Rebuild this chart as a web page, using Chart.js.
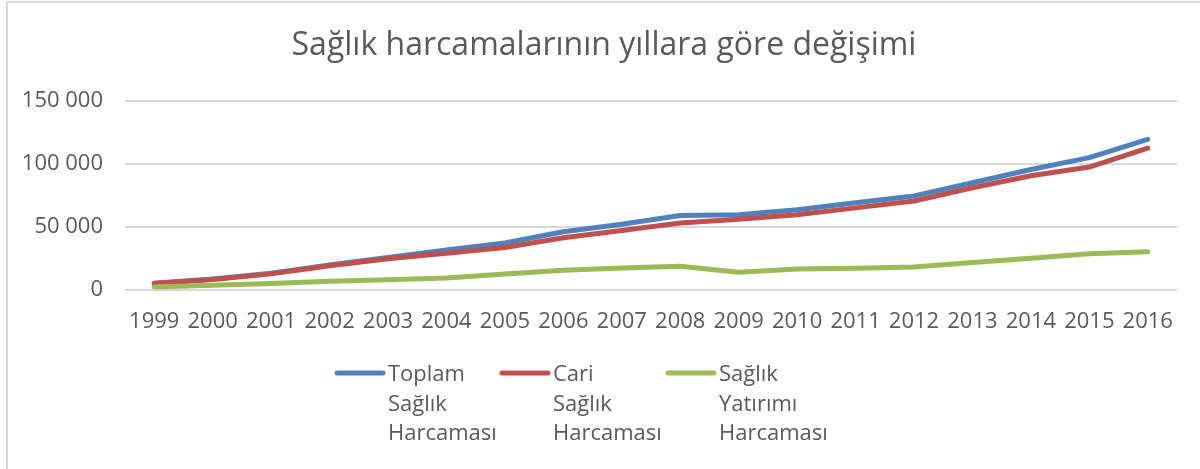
<!DOCTYPE html>
<html lang="tr">
<head>
<meta charset="UTF-8">
<title>Sağlık harcamaları</title>
<script src="https://cdn.jsdelivr.net/npm/chart.js"></script>
<style>
    body {
        margin: 0;
        background: #ffffff;
        overflow: hidden;
    }
    .frame {
        position: absolute;
        left: 6px;
        top: 1px;
        width: 1300px;
        height: 600px;
        border-top: 2px solid #d9d9d9;
        border-left: 2px solid #d9d9d9;
    }
    .chart-box {
        position: absolute;
        left: 0;
        top: 0;
        width: 1200px;
        height: 469px;
    }
</style>
</head>
<body>
<div class="frame"></div>
<div class="chart-box">
    <canvas id="chart"></canvas>
</div>
<script>
const years = ['1999', '2000', '2001', '2002', '2003', '2004', '2005', '2006', '2007',
    '2008', '2009', '2010', '2011', '2012', '2013', '2014', '2015', '2016'];

const toplam = [5000, 8500, 13000, 19500, 25500, 31500, 37000, 46000, 52000,
    59000, 59500, 63500, 69000, 74500, 85000, 95500, 105000, 119500];
const cari = [4800, 8000, 12500, 19000, 24500, 29000, 33500, 41300, 47000,
    53000, 56000, 59500, 65000, 70500, 81000, 90500, 97500, 112500];
const yatirim = [2100, 3400, 4800, 6600, 7900, 9300, 12400, 15300, 17200,
    18500, 13800, 16400, 17000, 18000, 21500, 25000, 28500, 30200];

const seriesNames = [
    ['Toplam', 'Sağlık', 'Harcaması'],
    ['Cari', 'Sağlık', 'Harcaması'],
    ['Sağlık', 'Yatırımı', 'Harcaması']
];
const yTicks = [0, 50000, 100000, 150000];
const chartTitle = 'Sağlık harcamalarının yıllara göre değişimi';

const textColor = '#595959';
const fontFamily = "'Open Sans', 'Noto Sans', sans-serif";

// title and legend drawn by hand: the title sits off-centre, the legend wraps
const titleAndLegend = {
    id: 'titleAndLegend',
    afterDraw(chart) {
        const ctx = chart.ctx;
        ctx.save();
        ctx.fillStyle = textColor;
        ctx.textBaseline = 'middle';
        ctx.textAlign = 'center';
        ctx.font = '32px ' + fontFamily;
        ctx.fillText(chartTitle, 604, 46);

        const starts = [337, 502, 668];
        ctx.textAlign = 'left';
        ctx.font = '22px ' + fontFamily;
        chart.data.datasets.forEach((ds, i) => {
            const x = starts[i];
            ctx.strokeStyle = ds.borderColor;
            ctx.lineWidth = 5;
            ctx.lineCap = 'round';
            ctx.beginPath();
            ctx.moveTo(x, 373);
            ctx.lineTo(x + 46, 373);
            ctx.stroke();
            seriesNames[i].forEach((line, j) => {
                ctx.fillText(line, x + 51, 375 + j * 29.5);
            });
        });
        ctx.restore();
    }
};

const makeLine = (label, data, color, order) => ({
    label: label,
    data: data,
    borderColor: color,
    backgroundColor: color,
    borderWidth: 5,
    pointRadius: 0,
    tension: 0,
    borderCapStyle: 'round',
    borderJoinStyle: 'round',
    fill: false,
    order: order
});

window.onload = () => {
    const ctx = document.getElementById('chart').getContext('2d');
    new Chart(ctx, {
        type: 'line',
        data: {
            labels: years,
            datasets: [
                makeLine(seriesNames[0].join(' '), toplam, '#4f81bd', 3),
                makeLine(seriesNames[1].join(' '), cari, '#c0504d', 2),
                makeLine(seriesNames[2].join(' '), yatirim, '#9bbb59', 1)
            ]
        },
        options: {
            responsive: true,
            maintainAspectRatio: false,
            animation: false,
            layout: {
                padding: { left: 0, right: 23, top: 101, bottom: 115 }
            },
            plugins: {
                legend: { display: false },
                tooltip: { enabled: false },
                title: { display: false }
            },
            scales: {
                x: {
                    offset: true,
                    grid: { display: false, drawTicks: false },
                    border: { display: false },
                    ticks: {
                        color: textColor,
                        font: { family: fontFamily, size: 22 },
                        padding: 19,
                        maxRotation: 0,
                        autoSkip: false
                    }
                },
                y: {
                    min: 0,
                    max: 150000,
                    afterFit(scale) { scale.width = 125; },
                    afterBuildTicks(scale) {
                        scale.ticks = yTicks.map(v => ({ value: v }));
                    },
                    grid: { color: '#d9d9d9', lineWidth: 2, drawTicks: false },
                    border: { display: false },
                    ticks: {
                        color: textColor,
                        font: { family: fontFamily, size: 22 },
                        padding: 22,
                        callback: v => v === 0 ? '0' : String(v).replace(/\B(?=(\d{3})+(?!\d))/g, ' ')
                    }
                }
            }
        },
        plugins: [titleAndLegend]
    });
};
</script>
</body>
</html>
